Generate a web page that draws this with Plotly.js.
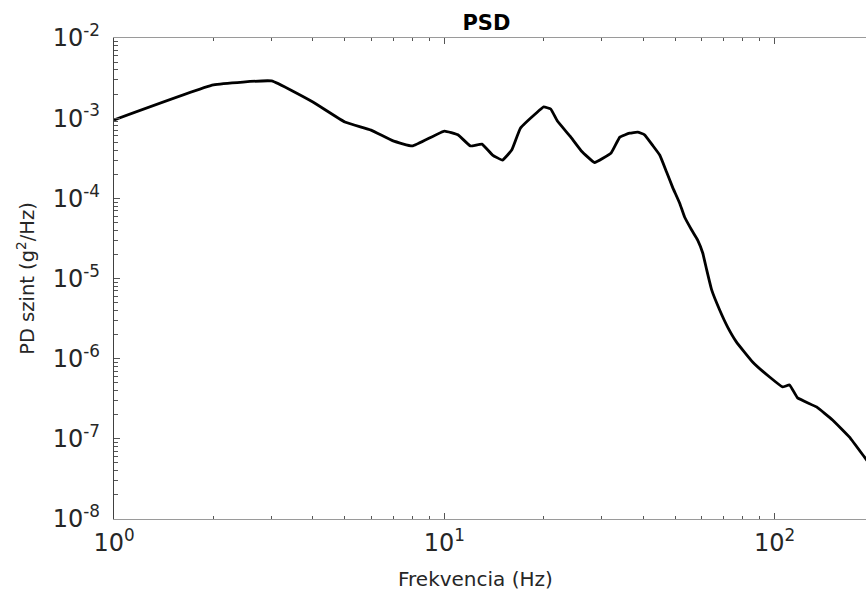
<!DOCTYPE html>
<html>
<head>
<meta charset="utf-8">
<script src="https://cdn.plot.ly/plotly-3.0.1.min.js"></script>
<style>
  html, body { margin: 0; padding: 0; overflow: hidden; background: #fff; }
</style>
</head>
<body>
<div id="chart"></div>
<script>
// Power spectral density, log-log
const freqHz = [1, 2, 3, 4, 5, 6, 7, 8, 10, 11, 12, 13, 14, 15, 16, 17, 19, 20, 21, 22,
  24, 26, 28.5, 32, 34, 36.4, 38.5, 40.4, 42.7, 44.9, 47.1, 49.1, 51.6, 53.4, 56.1, 58.5,
  60.6, 62.3, 64.5, 68.2, 72.1, 76.7, 85.8, 96.6, 105.7, 111, 117.4, 134, 149.8, 168.6, 187.2, 200];
const psdLevel = [9.5e-4, 2.6e-3, 2.91e-3, 1.59e-3, 8.95e-4, 7.1e-4, 5.2e-4, 4.5e-4, 6.9e-4, 6.2e-4,
  4.5e-4, 4.75e-4, 3.47e-4, 3.0e-4, 4.0e-4, 7.5e-4, 1.16e-3, 1.38e-3, 1.3e-3, 9.2e-4,
  6.0e-4, 3.9e-4, 2.8e-4, 3.68e-4, 5.8e-4, 6.5e-4, 6.7e-4, 6.2e-4, 4.6e-4, 3.47e-4,
  2.13e-4, 1.38e-4, 8.7e-5, 5.85e-5, 4.03e-5, 3.02e-5, 2.08e-5, 1.28e-5, 7.2e-6, 4.05e-6,
  2.48e-6, 1.61e-6, 9.1e-7, 5.9e-7, 4.44e-7, 4.7e-7, 3.24e-7, 2.5e-7, 1.72e-7, 1.05e-7, 5.9e-8, 4.1e-8];

const xTickVals = [1, 10, 100];
const xTickText = ['10<sup>0</sup>', '10<sup>1</sup>', '10<sup>2</sup>'];
const yTickVals = [1e-8, 1e-7, 1e-6, 1e-5, 1e-4, 1e-3, 1e-2];
const yTickText = ['10<sup>-8</sup>', '10<sup>-7</sup>', '10<sup>-6</sup>', '10<sup>-5</sup>',
  '10<sup>-4</sup>', '10<sup>-3</sup>', '10<sup>-2</sup>'];

const chartTitle = 'PSD';
const xTitle = 'Frekvencia (Hz)';
const yTitle = 'PD szint (g<sup>2</sup>/Hz)';

// minor ticks at 2..9 within each decade
function minorVals(expFrom, expTo) {
  const out = [];
  for (let e = expFrom; e < expTo; e++) {
    for (let m = 2; m <= 9; m++) out.push(m * Math.pow(10, e));
  }
  return out;
}

const font = 'DejaVu Sans, Verdana, sans-serif';
const textColor = '#262626';

const trace = {
  x: freqHz,
  y: psdLevel,
  type: 'scatter',
  mode: 'lines',
  line: { color: '#000000', width: 2.8, shape: 'spline', smoothing: 0.3 },
  hoverinfo: 'x+y'
};

const layout = {
  width: 876,
  height: 590,
  margin: { l: 114, r: 2, t: 38, b: 71 },
  paper_bgcolor: '#ffffff',
  plot_bgcolor: '#ffffff',
  showlegend: false,
  title: {
    text: '<b>' + chartTitle + '</b>',
    font: { family: font, size: 21, color: '#000000' },
    xref: 'paper', x: 0.49, xanchor: 'center',
    yref: 'paper', y: 1, yanchor: 'bottom',
    pad: { b: 8 }
  },
  xaxis: {
    type: 'log',
    range: [0, Math.log10(200)],
    tickmode: 'array',
    tickvals: xTickVals,
    ticktext: xTickText,
    ticks: 'inside',
    ticklen: 6,
    tickwidth: 1,
    tickcolor: '#555555',
    minor: { tickvals: minorVals(0, 3), ticks: 'inside', ticklen: 3, tickcolor: '#555555', showgrid: false },
    showgrid: false,
    zeroline: false,
    showline: true,
    linecolor: '#9a9a9a',
    linewidth: 1.2,
    mirror: 'ticks',
    tickfont: { family: font, size: 24, color: textColor },
    ticklabelstandoff: 2
  },
  yaxis: {
    type: 'log',
    range: [-8, -2],
    tickmode: 'array',
    tickvals: yTickVals,
    ticktext: yTickText,
    ticks: 'inside',
    ticklen: 6,
    tickwidth: 1,
    tickcolor: '#555555',
    minor: { tickvals: minorVals(-8, -2), ticks: 'inside', ticklen: 4, tickcolor: '#555555', showgrid: false },
    showgrid: false,
    zeroline: false,
    showline: true,
    linecolor: '#404040',
    linewidth: 1.2,
    mirror: false,
    tickfont: { family: font, size: 24, color: textColor },
    ticklabelstandoff: 8,
    title: {
      text: yTitle,
      font: { family: font, size: 19.5, color: textColor },
      standoff: 12
    }
  },
  annotations: [{
    text: xTitle,
    xref: 'paper', x: 0.475, xanchor: 'center',
    yref: 'paper', y: 0, yshift: -46, yanchor: 'top',
    showarrow: false,
    font: { family: font, size: 20, color: textColor }
  }]
};

Plotly.newPlot('chart', [trace], layout, { displayModeBar: false, staticPlot: true });
</script>
</body>
</html>
